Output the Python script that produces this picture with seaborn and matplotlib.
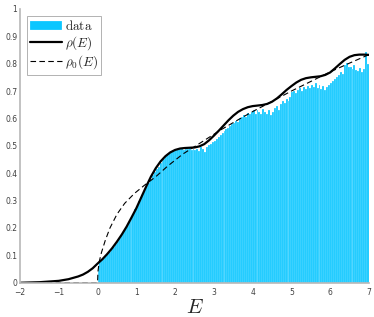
import numpy as np
import seaborn as sns
import pandas as pd
import matplotlib
matplotlib.use('Agg')
import matplotlib.pyplot as plt

sns.set_style('white')
plt.rcParams['mathtext.fontset'] = 'cm'
plt.rcParams['font.family'] = ['DejaVu Sans']

# histogram bin heights, bins of width 0.05 from E=0 to E=7
bin_width = 0.05
heights = [
    0.062, 0.078, 0.085, 0.090, 0.097, 0.104, 0.112, 0.122, 0.132, 0.143,
    0.152, 0.165, 0.175, 0.190, 0.200, 0.212, 0.226, 0.240, 0.252, 0.268,
    0.282, 0.297, 0.312, 0.326, 0.340, 0.352, 0.366, 0.380, 0.392, 0.405,
    0.414, 0.424, 0.436, 0.445, 0.452, 0.462, 0.468, 0.474, 0.480, 0.482,
    0.486, 0.490, 0.488, 0.492, 0.484, 0.490, 0.487, 0.493, 0.485, 0.488,
    0.486, 0.490, 0.482, 0.495, 0.488, 0.478, 0.497, 0.503, 0.508, 0.514,
    0.518, 0.525, 0.533, 0.540, 0.545, 0.553, 0.560, 0.566, 0.574, 0.580,
    0.585, 0.592, 0.588, 0.600, 0.606, 0.614, 0.604, 0.620, 0.617, 0.624,
    0.630, 0.618, 0.632, 0.624, 0.615, 0.635, 0.625, 0.618, 0.632, 0.612,
    0.622, 0.637, 0.647, 0.632, 0.652, 0.662, 0.657, 0.670, 0.664, 0.680,
    0.695, 0.700, 0.692, 0.705, 0.712, 0.700, 0.715, 0.708, 0.720, 0.712,
    0.722, 0.715, 0.728, 0.712, 0.722, 0.708, 0.718, 0.705, 0.715, 0.722,
    0.728, 0.735, 0.745, 0.752, 0.760, 0.768, 0.762, 0.795, 0.802, 0.788,
    0.788, 0.782, 0.795, 0.778, 0.772, 0.785, 0.770, 0.780, 0.843, 0.800,
]
centers = [bin_width * (i + 0.5) for i in range(len(heights))]

# rho(E), solid curve
E_rho = [-2.0, -1.5, -1.0, -0.75, -0.5, -0.375, -0.25, -0.125, 0.0, 0.125,
         0.25, 0.375, 0.5, 0.625, 0.75, 0.875, 1.0, 1.125, 1.25, 1.375,
         1.5, 1.625, 1.75, 1.875, 2.0, 2.125, 2.25, 2.375, 2.5, 2.625,
         2.75, 2.875, 3.0, 3.125, 3.25, 3.375, 3.5, 3.625, 3.75, 3.875,
         4.0, 4.125, 4.25, 4.375, 4.5, 4.625, 4.75, 4.875, 5.0, 5.125,
         5.25, 5.375, 5.5, 5.625, 5.75, 5.875, 6.0, 6.125, 6.25, 6.375,
         6.5, 6.625, 6.75, 6.875, 7.0]
rho = [0.000, 0.002, 0.007, 0.013, 0.023, 0.030, 0.040, 0.053, 0.070, 0.086,
       0.105, 0.126, 0.150, 0.176, 0.205, 0.238, 0.272, 0.311, 0.350, 0.387,
       0.418, 0.443, 0.462, 0.476, 0.485, 0.490, 0.492, 0.493, 0.494, 0.498,
       0.506, 0.520, 0.537, 0.555, 0.574, 0.593, 0.610, 0.624, 0.634, 0.641,
       0.645, 0.647, 0.649, 0.653, 0.661, 0.673, 0.688, 0.704, 0.718, 0.731,
       0.741, 0.747, 0.750, 0.752, 0.754, 0.759, 0.768, 0.783, 0.799, 0.814,
       0.825, 0.831, 0.833, 0.833, 0.832]

# rho_0(E), dashed curve
E_rho0 = [-2.0, 0.0, 0.0, 0.01, 0.04, 0.1, 0.2, 0.32, 0.5, 0.7,
          0.95, 1.2, 1.5, 1.8, 2.2, 2.7, 3.2, 3.6, 4.0, 4.5,
          5.0, 5.5, 6.0, 6.5, 7.0]
rho0 = [0.0, 0.0, 0.0, 0.040, 0.075, 0.110, 0.155, 0.200, 0.250, 0.290,
        0.326, 0.355, 0.387, 0.425, 0.470, 0.515, 0.560, 0.593, 0.625, 0.662,
        0.700, 0.735, 0.770, 0.802, 0.833]

hist_df = pd.DataFrame({'E': centers, 'count': heights})

fig = plt.figure(figsize=(3.74, 3.17), dpi=100)
ax = fig.add_axes([0.0535, 0.108, 0.933, 0.864])

sns.histplot(data=hist_df, x='E', weights='count', binwidth=bin_width, binrange=(0, 7),
             color='#0BC6FF', alpha=1.0, edgecolor='white', linewidth=0.15,
             label=r'$\mathrm{data}$', ax=ax)
sns.lineplot(x=E_rho, y=rho, color='black', linewidth=1.6, label=r'$\rho(E)$',
             sort=False, ax=ax)
sns.lineplot(x=E_rho0, y=rho0, color='black', linewidth=0.8,
             label=r'$\rho_0(E)$', sort=False, ax=ax)
ax.lines[-1].set_linestyle((0, (5, 3)))

ax.set_xlim(-2, 7)
ax.set_ylim(0, 1)
ax.set_xticks(range(-2, 8))
ax.set_yticks(np.arange(0, 1.01, 0.1))
ax.set_yticklabels(['0', '0.1', '0.2', '0.3', '0.4', '0.5', '0.6', '0.7', '0.8', '0.9', '1'])
ax.tick_params(direction='in', length=2.5, width=0.5, labelsize=5.5,
               colors='#b0b0b0', labelcolor='#404040', pad=2)
ax.tick_params(axis='x', pad=4)
for s in ['top', 'right']:
    ax.spines[s].set_visible(False)
for s in ['left', 'bottom']:
    ax.spines[s].set_color('#b8b8b8')
    ax.spines[s].set_linewidth(1.2)

ax.set_ylabel('')
ax.set_xlabel(r'$E$', fontsize=15, labelpad=0)

handles, labels = ax.get_legend_handles_labels()
order = [labels.index(r'$\mathrm{data}$'), labels.index(r'$\rho(E)$'), labels.index(r'$\rho_0(E)$')]
leg = ax.legend([handles[i] for i in order], [labels[i] for i in order],
                loc='upper left', bbox_to_anchor=(0.02, 0.975), fontsize=9.5,
                frameon=True, fancybox=False, handlelength=2.4, handletextpad=0.2,
                borderpad=0.25, labelspacing=0.1, borderaxespad=0.0)
leg.get_frame().set_edgecolor('#909090')
leg.get_frame().set_linewidth(0.6)

fig.savefig('out.png', dpi=100)
